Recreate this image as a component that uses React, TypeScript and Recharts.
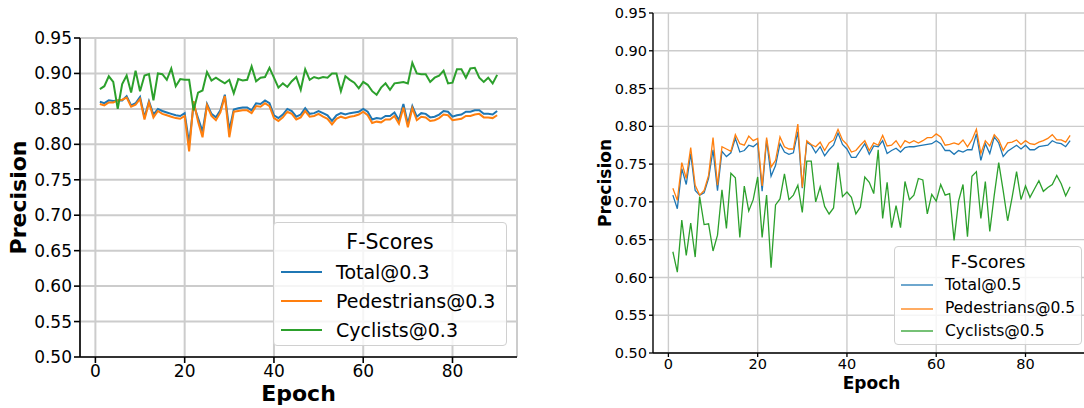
import React from 'react';
import { LineChart, Line, XAxis, YAxis, CartesianGrid, Legend } from 'recharts';

const epochs = [
  1, 2, 3, 4, 5, 6, 7, 8, 9, 10, 11, 12, 13, 14, 15, 16, 17, 18, 19, 20,
  21, 22, 23, 24, 25, 26, 27, 28, 29, 30, 31, 32, 33, 34, 35, 36, 37, 38, 39, 40,
  41, 42, 43, 44, 45, 46, 47, 48, 49, 50, 51, 52, 53, 54, 55, 56, 57, 58, 59, 60,
  61, 62, 63, 64, 65, 66, 67, 68, 69, 70, 71, 72, 73, 74, 75, 76, 77, 78, 79, 80,
  81, 82, 83, 84, 85, 86, 87, 88, 89, 90,
];

// Left panel: F-Scores @0.3
const total03 = [
  0.860, 0.858, 0.862, 0.861, 0.862, 0.862, 0.868, 0.855, 0.858, 0.867,
  0.838, 0.861, 0.842, 0.850, 0.847, 0.845, 0.843, 0.841, 0.840, 0.844,
  0.801, 0.856, 0.837, 0.818, 0.857, 0.843, 0.838, 0.848, 0.870, 0.820,
  0.849, 0.851, 0.852, 0.852, 0.848, 0.858, 0.857, 0.862, 0.858, 0.841,
  0.837, 0.842, 0.850, 0.847, 0.839, 0.842, 0.851, 0.843, 0.844, 0.847,
  0.844, 0.841, 0.833, 0.841, 0.844, 0.842, 0.844, 0.845, 0.846, 0.850,
  0.846, 0.835, 0.837, 0.836, 0.840, 0.840, 0.845, 0.834, 0.857, 0.829,
  0.854, 0.839, 0.844, 0.843, 0.838, 0.839, 0.842, 0.847, 0.846, 0.839,
  0.841, 0.842, 0.846, 0.846, 0.848, 0.848, 0.843, 0.843, 0.842, 0.847,
];
const pedestrians03 = [
  0.857, 0.855, 0.859, 0.859, 0.862, 0.863, 0.866, 0.853, 0.856, 0.864,
  0.835, 0.859, 0.838, 0.847, 0.843, 0.841, 0.839, 0.837, 0.836, 0.840,
  0.790, 0.861, 0.832, 0.810, 0.855, 0.840, 0.834, 0.845, 0.868, 0.810,
  0.846, 0.847, 0.848, 0.848, 0.844, 0.854, 0.853, 0.858, 0.854, 0.837,
  0.833, 0.838, 0.846, 0.843, 0.835, 0.838, 0.847, 0.839, 0.840, 0.843,
  0.839, 0.836, 0.828, 0.836, 0.839, 0.837, 0.839, 0.840, 0.842, 0.846,
  0.841, 0.830, 0.832, 0.831, 0.835, 0.835, 0.840, 0.829, 0.852, 0.824,
  0.851, 0.834, 0.839, 0.838, 0.833, 0.834, 0.837, 0.842, 0.841, 0.834,
  0.835, 0.836, 0.840, 0.840, 0.842, 0.843, 0.838, 0.838, 0.837, 0.841,
];
const cyclists03 = [
  0.878, 0.882, 0.896, 0.888, 0.850, 0.885, 0.897, 0.873, 0.904, 0.875,
  0.897, 0.899, 0.862, 0.900, 0.899, 0.891, 0.907, 0.882, 0.892, 0.891,
  0.891, 0.848, 0.873, 0.876, 0.902, 0.890, 0.894, 0.890, 0.886, 0.891,
  0.872, 0.892, 0.890, 0.891, 0.910, 0.889, 0.894, 0.895, 0.908, 0.894,
  0.880, 0.886, 0.881, 0.889, 0.895, 0.877, 0.906, 0.891, 0.895, 0.893,
  0.895, 0.894, 0.900, 0.900, 0.875, 0.896, 0.891, 0.887, 0.879, 0.888,
  0.884, 0.875, 0.870, 0.880, 0.886, 0.877, 0.886, 0.887, 0.888, 0.886,
  0.915, 0.900, 0.899, 0.899, 0.888, 0.894, 0.897, 0.904, 0.886, 0.887,
  0.906, 0.906, 0.894, 0.907, 0.908, 0.894, 0.888, 0.894, 0.886, 0.898,
];

// Right panel: F-Scores @0.5
const total05 = [
  0.709, 0.691, 0.744, 0.723, 0.764, 0.715, 0.709, 0.712, 0.731, 0.769,
  0.715, 0.767, 0.760, 0.765, 0.784, 0.766, 0.768, 0.775, 0.773, 0.778,
  0.714, 0.782, 0.734, 0.748, 0.777, 0.766, 0.763, 0.765, 0.793, 0.718,
  0.779, 0.775, 0.765, 0.773, 0.761, 0.769, 0.775, 0.791, 0.776, 0.770,
  0.759, 0.759, 0.768, 0.777, 0.763, 0.774, 0.773, 0.781, 0.764, 0.768,
  0.771, 0.766, 0.772, 0.773, 0.773, 0.774, 0.775, 0.776, 0.777, 0.781,
  0.777, 0.768, 0.768, 0.763, 0.768, 0.766, 0.769, 0.769, 0.790, 0.755,
  0.777, 0.764, 0.786, 0.778, 0.760, 0.767, 0.771, 0.775, 0.770, 0.775,
  0.769, 0.769, 0.773, 0.774, 0.775, 0.781, 0.778, 0.777, 0.773, 0.781,
];
const pedestrians05 = [
  0.718, 0.702, 0.752, 0.731, 0.772, 0.722, 0.709, 0.715, 0.735, 0.785,
  0.722, 0.773, 0.770, 0.767, 0.789, 0.777, 0.775, 0.787, 0.781, 0.784,
  0.721, 0.785, 0.746, 0.755, 0.786, 0.773, 0.770, 0.770, 0.803, 0.719,
  0.781, 0.776, 0.773, 0.779, 0.768, 0.778, 0.782, 0.796, 0.782, 0.776,
  0.766, 0.768, 0.775, 0.781, 0.768, 0.778, 0.775, 0.788, 0.774, 0.775,
  0.781, 0.772, 0.781, 0.778, 0.781, 0.778, 0.781, 0.785, 0.785, 0.790,
  0.786, 0.775, 0.776, 0.778, 0.776, 0.782, 0.773, 0.782, 0.796, 0.764,
  0.781, 0.774, 0.789, 0.782, 0.768, 0.778, 0.779, 0.782, 0.776, 0.781,
  0.777, 0.776, 0.779, 0.781, 0.784, 0.789, 0.782, 0.782, 0.779, 0.788,
];
const cyclists05 = [
  0.634, 0.607, 0.676, 0.629, 0.672, 0.627, 0.707, 0.670, 0.671, 0.635,
  0.656, 0.716, 0.665, 0.738, 0.732, 0.653, 0.721, 0.688, 0.703, 0.733,
  0.653, 0.709, 0.613, 0.696, 0.704, 0.737, 0.703, 0.709, 0.722, 0.686,
  0.754, 0.754, 0.700, 0.720, 0.694, 0.684, 0.692, 0.752, 0.707, 0.713,
  0.706, 0.684, 0.693, 0.733, 0.726, 0.711, 0.769, 0.678, 0.726, 0.666,
  0.695, 0.666, 0.727, 0.703, 0.709, 0.731, 0.729, 0.684, 0.710, 0.701,
  0.723, 0.709, 0.711, 0.649, 0.701, 0.723, 0.654, 0.734, 0.740, 0.678,
  0.727, 0.661, 0.709, 0.752, 0.715, 0.675, 0.706, 0.740, 0.703, 0.721,
  0.706, 0.717, 0.728, 0.714, 0.719, 0.723, 0.735, 0.724, 0.708, 0.720,
];

const xTicks = [0, 20, 40, 60, 80];
const yTicks = [0.5, 0.55, 0.6, 0.65, 0.7, 0.75, 0.8, 0.85, 0.9, 0.95];
const xDomain: [number, number] = [-3.45, 94.45];
const yDomain: [number, number] = [0.5, 0.95];

const COLORS = ['#1f77b4', '#ff7f0e', '#2ca02c'];
const legendTitle = 'F-Scores';
const xLabel = 'Epoch';
const yLabel = 'Precision';
const namesLeft = ['Total@0.3', 'Pedestrians@0.3', 'Cyclists@0.3'];
const namesRight = ['Total@0.5', 'Pedestrians@0.5', 'Cyclists@0.5'];

function buildRows(t: number[], p: number[], c: number[]) {
  return epochs.map((e, i) => ({ epoch: e, total: t[i], ped: p[i], cyc: c[i] }));
}

type PanelProps = {
  data: any[];
  names: string[];
  left: number;
  width: number;
  margin: { top: number; right: number; bottom: number; left: number };
  yAxisWidth: number;
  xAxisHeight: number;
  tickFont: number;
  tickSize: number;
  tickMargin: number;
  labelFont: number;
  yLabelOffset: number;
  xLabelOffset: number;
  lineWidth: number;
  gridWidth: number;
  spineWidth: number;
  legend: {
    left: number;
    top: number;
    width: number;
    height: number;
    titleFont: number;
    titleY: number;
    itemFont: number;
    itemY: number[];
    lineX0: number;
    lineX1: number;
    textX: number;
  };
};

function Panel(p: PanelProps) {
  const lg = p.legend;
  const renderLegend = (props: any) => {
    const payload = [...(props.payload || [])].sort(
      (a: any, b: any) => p.names.indexOf(a.value) - p.names.indexOf(b.value)
    );
    return (
      <div
        style={{
          position: 'relative',
          width: lg.width,
          height: lg.height,
          boxSizing: 'border-box',
          border: '1px solid #d0d0d0',
          borderRadius: 4,
          background: 'rgba(255,255,255,0.8)',
          fontFamily: '"DejaVu Sans", sans-serif',
          color: '#000',
        }}
      >
        <div
          style={{
            position: 'absolute',
            left: 0,
            width: '100%',
            top: lg.titleY - lg.titleFont * 0.6,
            textAlign: 'center',
            fontSize: lg.titleFont,
            lineHeight: `${lg.titleFont * 1.2}px`,
            whiteSpace: 'nowrap',
          }}
        >
          {legendTitle}
        </div>
        {payload.map((entry: any, i: number) => (
          <div key={i}>
            <svg
              style={{ position: 'absolute', left: 0, top: lg.itemY[i] - 5 }}
              width={lg.lineX1 + 2}
              height={10}
            >
              <line
                x1={lg.lineX0}
                x2={lg.lineX1}
                y1={5}
                y2={5}
                stroke={entry.color}
                strokeWidth={p.lineWidth}
              />
            </svg>
            <div
              style={{
                position: 'absolute',
                left: lg.textX,
                top: lg.itemY[i] - lg.itemFont * 0.6,
                fontSize: lg.itemFont,
                lineHeight: `${lg.itemFont * 1.2}px`,
                whiteSpace: 'nowrap',
              }}
            >
              {entry.value}
            </div>
          </div>
        ))}
      </div>
    );
  };

  const yLabelContent = (props: any) => {
    const vb = props.viewBox || { x: 0, y: 0, width: 0, height: 0 };
    const x = vb.x + p.yLabelOffset;
    const y = vb.y + vb.height / 2;
    return (
      <text
        x={x}
        y={y}
        transform={`rotate(-90 ${x} ${y})`}
        textAnchor="middle"
        fontWeight="bold"
        fontSize={p.labelFont}
        fill="#000"
      >
        {yLabel}
      </text>
    );
  };
  const xLabelContent = (props: any) => {
    const vb = props.viewBox || { x: 0, y: 0, width: 0, height: 0 };
    return (
      <text
        x={vb.x + vb.width / 2}
        y={vb.y + p.xLabelOffset}
        textAnchor="middle"
        fontWeight="bold"
        fontSize={p.labelFont}
        fill="#000"
      >
        {xLabel}
      </text>
    );
  };

  const tickStyle = { fontSize: p.tickFont, fill: '#000' };
  const axisLine = { stroke: '#000', strokeWidth: p.spineWidth };
  const tickLine = { stroke: '#000', strokeWidth: p.spineWidth };

  return (
    <div style={{ position: 'absolute', left: p.left, top: 0 }}>
      <LineChart width={p.width} height={408} data={p.data} margin={p.margin}>
        <CartesianGrid stroke="#cccccc" strokeWidth={p.gridWidth} />
        <XAxis
          dataKey="epoch"
          type="number"
          domain={xDomain}
          allowDataOverflow
          ticks={xTicks}
          height={p.xAxisHeight}
          tick={tickStyle}
          tickSize={p.tickSize}
          tickMargin={p.tickMargin}
          axisLine={axisLine}
          tickLine={tickLine}
          label={{ content: xLabelContent }}
        />
        <XAxis
          xAxisId="top"
          orientation="top"
          dataKey="epoch"
          type="number"
          domain={xDomain}
          allowDataOverflow
          height={0}
          tick={false}
          tickLine={false}
          axisLine={{ stroke: '#222', strokeWidth: p.spineWidth }}
        />
        <YAxis
          type="number"
          domain={yDomain}
          allowDataOverflow
          ticks={yTicks}
          width={p.yAxisWidth}
          tick={tickStyle}
          tickSize={p.tickSize}
          tickMargin={p.tickMargin}
          tickFormatter={(v: number) => v.toFixed(2)}
          axisLine={axisLine}
          tickLine={tickLine}
          interval={0}
          label={{ content: yLabelContent }}
        />
        <YAxis
          yAxisId="right"
          orientation="right"
          type="number"
          domain={yDomain}
          allowDataOverflow
          width={0}
          tick={false}
          tickLine={false}
          axisLine={{ stroke: '#222', strokeWidth: p.spineWidth }}
        />
        <Line
          dataKey="total"
          name={p.names[0]}
          stroke={COLORS[0]}
          strokeWidth={p.lineWidth}
          dot={false}
          activeDot={false}
          type="linear"
          isAnimationActive={false}
        />
        <Line
          dataKey="ped"
          name={p.names[1]}
          stroke={COLORS[1]}
          strokeWidth={p.lineWidth}
          dot={false}
          activeDot={false}
          type="linear"
          isAnimationActive={false}
        />
        <Line
          dataKey="cyc"
          name={p.names[2]}
          stroke={COLORS[2]}
          strokeWidth={p.lineWidth}
          dot={false}
          activeDot={false}
          type="linear"
          isAnimationActive={false}
        />
        <Legend
          layout="vertical"
          align="center"
          verticalAlign="middle"
          content={renderLegend}
          wrapperStyle={{ left: lg.left, top: lg.top, width: lg.width, height: lg.height }}
        />
      </LineChart>
    </div>
  );
}

export default function App() {
  const leftData = buildRows(total03, pedestrians03, cyclists03);
  const rightData = buildRows(total05, pedestrians05, cyclists05);
  return (
    <div
      style={{
        position: 'fixed',
        left: 0,
        top: 0,
        width: 1084,
        height: 408,
        overflow: 'hidden',
        background: '#fff',
        fontFamily: '"DejaVu Sans", sans-serif',
      }}
    >
      <Panel
        data={leftData}
        names={namesLeft}
        left={0}
        width={540}
        margin={{ top: 38, right: 23, bottom: 0, left: 20 }}
        yAxisWidth={60}
        xAxisHeight={51}
        tickFont={17}
        tickSize={6}
        tickMargin={2}
        labelFont={22}
        yLabelOffset={6}
        xLabelOffset={44}
        lineWidth={2}
        gridWidth={2}
        spineWidth={1.6}
        legend={{
          left: 273,
          top: 222,
          width: 234,
          height: 124,
          titleFont: 20.5,
          titleY: 19,
          itemFont: 19,
          itemY: [49, 78, 107],
          lineX0: 7,
          lineX1: 48,
          textX: 62,
        }}
      />
      <Panel
        data={rightData}
        names={namesRight}
        left={560}
        width={540}
        margin={{ top: 13, right: 10, bottom: 0, left: 33 }}
        yAxisWidth={60}
        xAxisHeight={55}
        tickFont={14.5}
        tickSize={4}
        tickMargin={2}
        labelFont={17}
        yLabelOffset={18}
        xLabelOffset={35.5}
        lineWidth={1.3}
        gridWidth={1.4}
        spineWidth={1.3}
        legend={{
          left: 334,
          top: 246,
          width: 188,
          height: 99,
          titleFont: 17.5,
          titleY: 15,
          itemFont: 15.5,
          itemY: [38, 61.5, 84],
          lineX0: 6,
          lineX1: 38,
          textX: 50,
        }}
      />
    </div>
  );
}
